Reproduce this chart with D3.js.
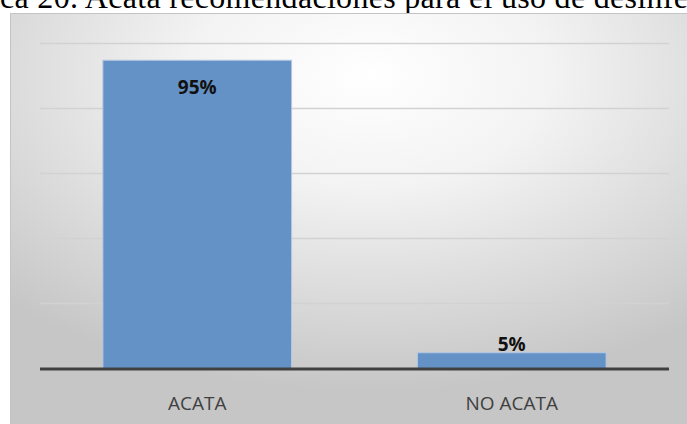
<!DOCTYPE html>
<html>
<head>
<meta charset="utf-8">
<script src="https://d3js.org/d3.v7.min.js"></script>
<style>
  body { margin: 0; background: #fff; }
  svg { display: block; }
</style>
</head>
<body>
<svg width="687" height="424"></svg>
<script>
let width = 687, height = 424;
let categories = ['ACATA', 'NO ACATA'];
let values = [0.95, 0.05];
let labels = ['95%', '5%'];
let yTicks = [0, 0.2, 0.4, 0.6, 0.8, 1.0];
let caption = 'ca 20. Acata recomendaciones para el uso de desinfe';

let svg = d3.select('svg');

// background gradient like the office chart area
let defs = svg.append('defs');
let grad = defs.append('radialGradient')
  .attr('id', 'bg')
  .attr('cx', '52%').attr('cy', '15%').attr('r', '75%');
grad.append('stop').attr('offset', '0%').attr('stop-color', '#ffffff');
grad.append('stop').attr('offset', '35%').attr('stop-color', '#f3f3f3');
grad.append('stop').attr('offset', '100%').attr('stop-color', '#c6c6c6');

// caption, partly above the top of the picture as in the source
svg.append('text')
  .attr('x', 0)
  .attr('y', 8)
  .attr('textLength', 688)
  .attr('lengthAdjust', 'spacing')
  .style('font-family', '"Liberation Serif", "Times New Roman", serif')
  .style('font-size', '32px')
  .style('fill', '#000')
  .text(caption);

svg.append('rect')
  .attr('x', 10.5).attr('y', 13.5)
  .attr('width', 690).attr('height', 420)
  .attr('fill', 'url(#bg)')
  .attr('stroke', '#c4c4c4');

let x = d3.scaleBand()
  .domain(categories)
  .range([40, 669])
  .paddingInner(0.4)
  .paddingOuter(0.2);

let y = d3.scaleLinear()
  .domain([0, 1])
  .range([369, 44]);

// gridlines
svg.append('g')
  .selectAll('line')
  .data(yTicks.slice(1))
  .join('line')
  .attr('x1', 40)
  .attr('x2', 669)
  .attr('y1', function(d) { return Math.round(y(d)) - 0.5; })
  .attr('y2', function(d) { return Math.round(y(d)) - 0.5; })
  .attr('stroke', '#d2d2d2')
  .attr('stroke-width', 1.5);

// bars
svg.append('g')
  .selectAll('rect')
  .data(values)
  .join('rect')
  .attr('x', function(d, i) { return x(categories[i]); })
  .attr('y', function(d) { return y(d); })
  .attr('width', x.bandwidth())
  .attr('height', function(d) { return y(0) - y(d); })
  .attr('fill', '#6592c6')
  .attr('stroke', '#b4c8e2')
  .attr('stroke-width', 1);

// data labels
svg.append('g')
  .selectAll('text')
  .data(values)
  .join('text')
  .attr('x', function(d, i) { return x(categories[i]) + x.bandwidth() / 2; })
  .attr('y', function(d) { return d > 0.5 ? y(d) + 34 : y(d) - 2; })
  .attr('text-anchor', 'middle')
  .style('font-family', '"Open Sans", "Noto Sans", sans-serif')
  .style('font-weight', 'bold')
  .style('font-size', '19px')
  .style('fill', '#111')
  .text(function(d, i) { return labels[i]; });

// x axis
let xAxis = svg.append('g')
  .attr('transform', 'translate(0,' + y(0) + ')')
  .call(d3.axisBottom(x).tickSize(0).tickPadding(28));
xAxis.select('.domain')
  .attr('d', 'M40,0H669')
  .attr('stroke', '#404040')
  .attr('stroke-width', 3);
xAxis.selectAll('text')
  .style('font-family', '"Open Sans", "Noto Sans", sans-serif')
  .style('font-size', '19px')
  .style('fill', '#404040');
</script>
</body>
</html>
